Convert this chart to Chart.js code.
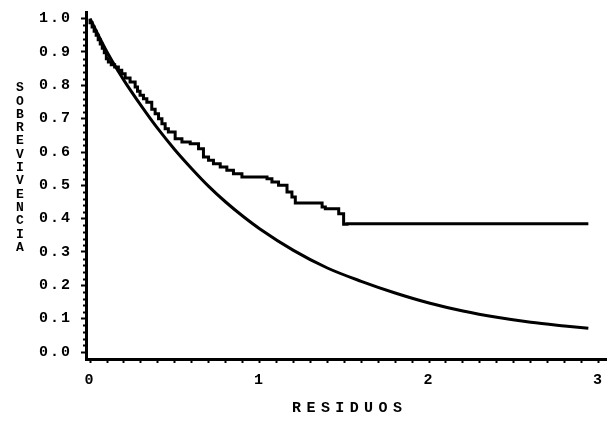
<!DOCTYPE html>
<html>
<head>
<meta charset="utf-8">
<script src="https://cdn.jsdelivr.net/npm/chart.js@4.4.0/dist/chart.umd.min.js"></script>
<style>
html,body{margin:0;padding:0;background:#fff;}
#wrap{width:607px;height:425px;position:relative;}
</style>
</head>
<body>
<div id="wrap"><canvas id="c" width="607" height="425"></canvas></div>
<script>
// Kaplan-Meier (empirical) survival of residuals: step curve
const kmX = [0, 0.012, 0.024, 0.036, 0.048, 0.06, 0.072, 0.084, 0.096, 0.108, 0.125, 0.145, 0.167, 0.187, 0.207, 0.236, 0.266, 0.280, 0.295, 0.315, 0.335, 0.364, 0.384, 0.404, 0.424, 0.443, 0.462, 0.502, 0.542, 0.591, 0.640, 0.669, 0.699, 0.728, 0.768, 0.807, 0.846, 0.896, 0.916, 1.044, 1.073, 1.112, 1.162, 1.191, 1.211, 1.240, 1.369, 1.388, 1.467, 1.496, 1.516, 2.94];
const kmY = [1.0, 0.988, 0.975, 0.962, 0.950, 0.937, 0.924, 0.911, 0.898, 0.880, 0.870, 0.862, 0.855, 0.845, 0.835, 0.822, 0.810, 0.795, 0.782, 0.770, 0.760, 0.749, 0.728, 0.715, 0.700, 0.685, 0.670, 0.660, 0.640, 0.630, 0.625, 0.610, 0.585, 0.575, 0.565, 0.555, 0.545, 0.535, 0.525, 0.525, 0.520, 0.510, 0.500, 0.480, 0.465, 0.447, 0.447, 0.435, 0.430, 0.415, 0.383, 0.385];
// Theoretical (exponential) survival: smooth curve
const expX = [0, 0.1, 0.2, 0.3, 0.4, 0.5, 0.6, 0.7, 0.8, 0.9, 1.0, 1.2, 1.4, 1.6, 1.8, 2.0, 2.2, 2.4, 2.6, 2.8, 2.94];
const expY = [1.0, 0.90, 0.815, 0.74, 0.67, 0.607, 0.55, 0.497, 0.45, 0.408, 0.37, 0.305, 0.252, 0.212, 0.177, 0.147, 0.123, 0.104, 0.089, 0.078, 0.071];
const yTickValues = [0, 0.1, 0.2, 0.3, 0.4, 0.5, 0.6, 0.7, 0.8, 0.9, 1.0];
const yTickLabels = ['0.0','0.1','0.2','0.3','0.4','0.5','0.6','0.7','0.8','0.9','1.0'];
const xTickLabels = ['0','1','2','3'];
const xTitle = 'RESIDUOS';
const yTitle = 'SOBREVIVENCIA';

const kmData = kmX.map((x,i)=>({x:x, y:kmY[i]}));
const expData = expX.map((x,i)=>({x:x, y:expY[i]}));
const FONT = '"Liberation Mono", "DejaVu Sans Mono", monospace';

const extras = {
  id: 'extras',
  beforeDraw(chart){ try { chart.ctx.letterSpacing = '2px'; } catch(e){} },
  afterDraw(chart){
    const ctx = chart.ctx;
    const xs = chart.scales.x, ys = chart.scales.y;
    ctx.save();
    ctx.letterSpacing = '0px';
    ctx.strokeStyle = '#000';
    ctx.lineWidth = 2;
    // minor y ticks
    for (let i = 1; i < 50; i++) {
      if (i % 5 === 0) continue;
      const py = Math.round(ys.getPixelForValue(i/50)) + 0.5;
      ctx.beginPath();
      ctx.moveTo(xs.left - 3, py);
      ctx.lineTo(xs.left - 1, py);
      ctx.stroke();
    }
    ctx.fillStyle = '#000';
    ctx.textAlign = 'center';
    ctx.textBaseline = 'middle';
    // x title, letter by letter
    ctx.font = 'bold 15px ' + FONT;
    const xc = 347, step = 14.4;
    for (let i = 0; i < xTitle.length; i++) {
      ctx.fillText(xTitle[i], xc + (i - (xTitle.length-1)/2)*step, 408);
    }
    // y title stacked letters
    ctx.font = 'bold 13px ' + FONT;
    for (let i = 0; i < yTitle.length; i++) {
      ctx.fillText(yTitle[i], 20, 88 + i*13.3);
    }
    ctx.restore();
  }
};

new Chart(document.getElementById('c'), {
  type: 'line',
  data: {
    datasets: [
      { data: kmData, borderColor: '#000', borderWidth: 3, pointRadius: 0, stepped: 'after', fill: false },
      { data: expData, borderColor: '#000', borderWidth: 3, pointRadius: 0, cubicInterpolationMode: 'monotone', fill: false }
    ]
  },
  options: {
    responsive: false,
    animation: false,
    events: [],
    layout: { padding: { top: 12, right: 0, left: 0, bottom: 0 } },
    plugins: { legend: { display: false }, tooltip: { enabled: false } },
    scales: {
      x: {
        type: 'linear', min: -0.024, max: 3.05,
        afterBuildTicks(s){ s.ticks = Array.from({length:31}, (_,i)=>({value: i/10})); },
        afterFit(s){ s.height = 66; s.paddingLeft = 0; s.paddingRight = 0; },
        border: { color: '#000', width: 3 },
        grid: { drawOnChartArea: false, drawTicks: true, tickLength: 4, tickColor: '#000', tickWidth: 2 },
        ticks: {
          color: '#000', padding: 8, maxRotation: 0, autoSkip: false,
          font: { family: FONT, size: 15, weight: 'bold' },
          callback(v){ const r = Math.round(v); return Math.abs(v - r) < 1e-6 ? xTickLabels[r] : ''; }
        }
      },
      y: {
        type: 'linear', min: -0.021, max: 1.02,
        afterBuildTicks(s){ s.ticks = yTickValues.map(v=>({value:v})); },
        afterFit(s){ s.width = 86; s.paddingTop = 0; s.paddingBottom = 0; },
        border: { color: '#000', width: 3 },
        grid: { drawOnChartArea: false, drawTicks: true, tickLength: 5, tickColor: '#000', tickWidth: 2 },
        ticks: {
          color: '#000', padding: 9, autoSkip: false,
          font: { family: FONT, size: 15, weight: 'bold' },
          callback(v){ const i = yTickValues.findIndex(t=>Math.abs(t-v)<1e-6); return i >= 0 ? yTickLabels[i] : ''; }
        }
      }
    }
  },
  plugins: [extras]
});
</script>
</body>
</html>
